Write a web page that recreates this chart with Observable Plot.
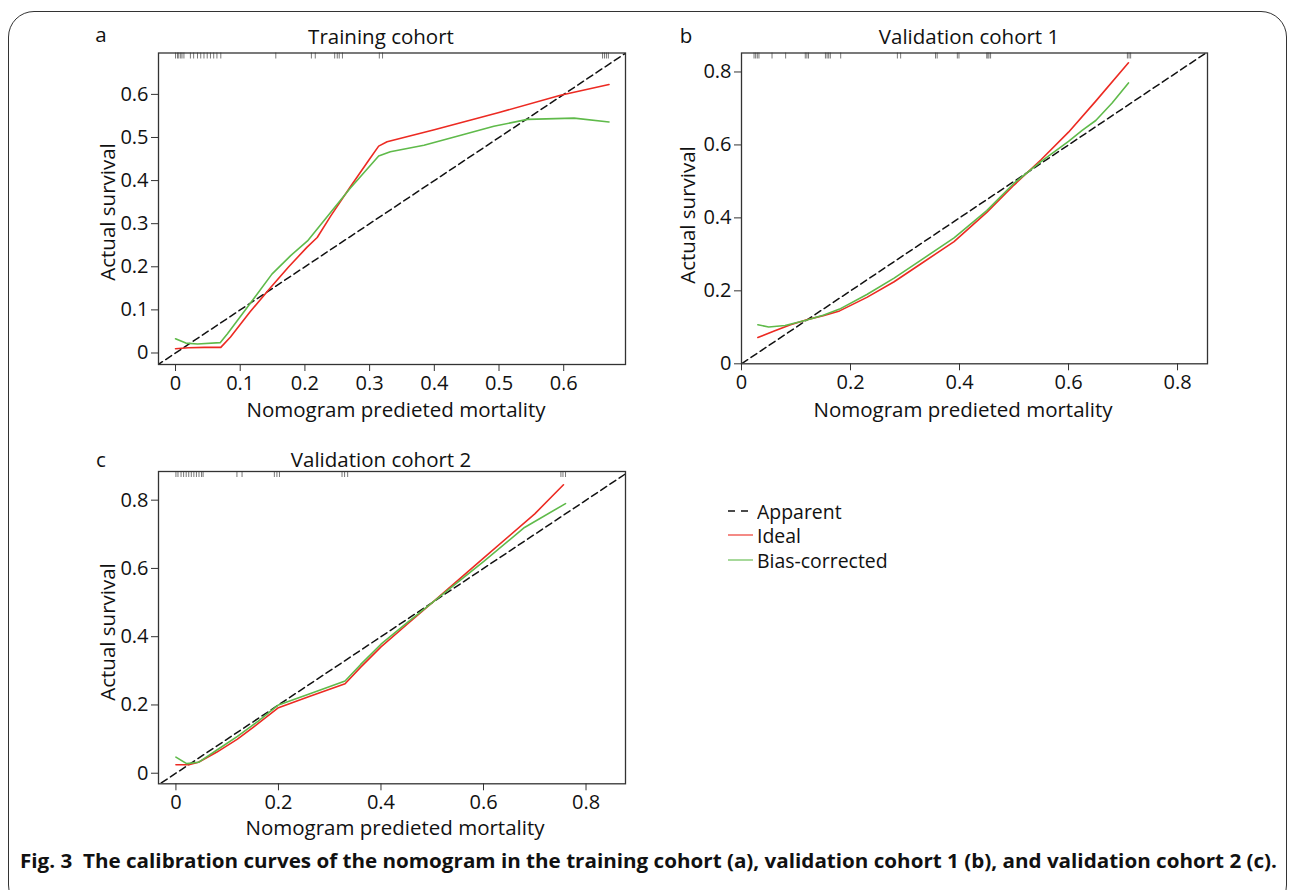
<!DOCTYPE html>
<html>
<head>
<meta charset="utf-8">
<script src="https://cdn.jsdelivr.net/npm/d3@7"></script>
<script src="https://cdn.jsdelivr.net/npm/@observablehq/plot@0.6"></script>
<style>
  html, body { margin: 0; padding: 0; background: #fff; }
  body { width: 1292px; height: 890px; position: relative; overflow: hidden; font-family: "Open Sans", "Noto Sans", sans-serif; color: #111; }
  .border { position: absolute; left: 8px; top: 11px; width: 1279px; height: 900px; border: 1.5px solid #333; border-radius: 26px; box-sizing: border-box; }
  .t { position: absolute; white-space: pre; font-size: 20.5px; line-height: 1; transform: translate(-50%, -50%); }
  .rot { transform: translate(-50%, -50%) rotate(-90deg); }
  .panel { position: absolute; }
  .leg { position: absolute; font-size: 18px; line-height: 1; white-space: pre; transform-origin: 0 50%; transform: scale(1.08, 1.08); }
  #caption { position: absolute; left: 20px; top: 851px; font-weight: 700; font-size: 19px; white-space: pre; transform-origin: 0 0; line-height: 1.1; }
</style>
</head>
<body>
<div class="border"></div>
<div id="root"></div>
<script>
// ---------- data ----------
// Panel a: Training cohort
const aIdealX = [0.000, 0.020, 0.045, 0.070, 0.085, 0.115, 0.147, 0.175, 0.203, 0.219, 0.240, 0.270, 0.300, 0.314, 0.327, 0.400, 0.500, 0.595, 0.670];
const aIdealY = [0.010, 0.012, 0.013, 0.013, 0.037, 0.095, 0.152, 0.200, 0.245, 0.268, 0.318, 0.385, 0.450, 0.480, 0.490, 0.518, 0.558, 0.598, 0.623];
const aBiasX = [0.000, 0.016, 0.034, 0.069, 0.080, 0.111, 0.149, 0.178, 0.204, 0.229, 0.270, 0.314, 0.332, 0.384, 0.441, 0.492, 0.544, 0.616, 0.670];
const aBiasY = [0.033, 0.023, 0.021, 0.024, 0.044, 0.106, 0.183, 0.226, 0.260, 0.306, 0.382, 0.457, 0.467, 0.482, 0.505, 0.526, 0.542, 0.545, 0.536];
const aRug = [0.000, 0.003, 0.005, 0.008, 0.010, 0.013, 0.023, 0.028, 0.034, 0.039, 0.044, 0.049, 0.054, 0.059, 0.064, 0.070, 0.155, 0.210, 0.216, 0.246, 0.250, 0.253, 0.258, 0.315, 0.320, 0.660, 0.663, 0.666, 0.669];

// Panel b: Validation cohort 1
const bIdealX = [0.030, 0.060, 0.090, 0.120, 0.150, 0.180, 0.230, 0.280, 0.330, 0.390, 0.450, 0.500, 0.550, 0.600, 0.650, 0.710];
const bIdealY = [0.072, 0.090, 0.107, 0.121, 0.132, 0.145, 0.182, 0.225, 0.275, 0.335, 0.415, 0.490, 0.560, 0.635, 0.720, 0.825];
const bBiasX = [0.030, 0.050, 0.080, 0.120, 0.150, 0.180, 0.230, 0.280, 0.330, 0.390, 0.450, 0.500, 0.550, 0.600, 0.625, 0.650, 0.680, 0.710];
const bBiasY = [0.107, 0.101, 0.105, 0.120, 0.133, 0.150, 0.190, 0.235, 0.285, 0.345, 0.420, 0.495, 0.555, 0.610, 0.640, 0.667, 0.715, 0.770];
const bRug = [0.023, 0.026, 0.029, 0.032, 0.056, 0.081, 0.117, 0.120, 0.123, 0.154, 0.157, 0.160, 0.163, 0.182, 0.286, 0.292, 0.356, 0.359, 0.396, 0.399, 0.450, 0.452, 0.454, 0.457, 0.708, 0.711, 0.714];

// Panel c: Validation cohort 2
const cIdealX = [0.000, 0.025, 0.044, 0.080, 0.120, 0.160, 0.200, 0.260, 0.330, 0.360, 0.400, 0.450, 0.500, 0.600, 0.700, 0.756];
const cIdealY = [0.025, 0.025, 0.032, 0.062, 0.100, 0.145, 0.192, 0.225, 0.262, 0.310, 0.370, 0.435, 0.500, 0.630, 0.760, 0.845];
const cBiasX = [0.000, 0.021, 0.044, 0.080, 0.120, 0.160, 0.200, 0.260, 0.330, 0.360, 0.400, 0.450, 0.500, 0.600, 0.680, 0.760];
const cBiasY = [0.047, 0.028, 0.032, 0.068, 0.108, 0.152, 0.200, 0.232, 0.270, 0.318, 0.378, 0.440, 0.500, 0.620, 0.720, 0.790];
const cRug = [0.000, 0.004, 0.010, 0.015, 0.020, 0.025, 0.030, 0.035, 0.040, 0.045, 0.050, 0.053, 0.119, 0.129, 0.192, 0.197, 0.202, 0.324, 0.329, 0.335, 0.751, 0.755, 0.760];

// Apparent (diagonal reference)
const apparentX = [-0.1, 1];
const apparentY = [-0.1, 1];

const ticksA = [0, 0.1, 0.2, 0.3, 0.4, 0.5, 0.6];
const ticksB = [0, 0.2, 0.4, 0.6, 0.8];

const panelLetters = ["a", "b", "c"];
const panelTitles = ["Training cohort", "Validation cohort 1", "Validation cohort 2"];
const xLabel = "Nomogram predieted mortality";
const yLabel = "Actual survival";
const legendLabels = ["Apparent", "Ideal", "Bias-corrected"];
const captionText = "Fig. 3  The calibration curves of the nomogram in the training cohort (a), validation cohort 1 (b), and validation cohort 2 (c).";

// ---------- styling ----------
const RED = "#ec2a22";
const GREEN = "#5fba4a";

const zip = (xs, ys) => xs.map((x, i) => ({x, y: ys[i]}));

function panel(o) {
  const yTop = o.yDomain[1];
  const rugLen = (o.yDomain[1] - o.yDomain[0]) * 6 / (o.height - o.mt - o.mb);
  return Plot.plot({
    width: o.width, height: o.height,
    marginLeft: o.ml, marginRight: o.mr, marginTop: o.mt, marginBottom: o.mb,
    style: {fontFamily: "'Open Sans', 'Noto Sans', sans-serif", fontSize: "20px", color: "#111", background: "transparent", overflow: "visible"},
    x: {domain: o.xDomain},
    y: {domain: o.yDomain},
    marks: [
      Plot.ruleX(o.rug, {x: d => d, y1: yTop, y2: yTop - rugLen, stroke: "#777", strokeWidth: 1}),
      Plot.line(zip(apparentX, apparentY), {x: "x", y: "y", stroke: "#111", strokeWidth: 1.5, strokeDasharray: "7,4", clip: true}),
      Plot.line(zip(o.idealX, o.idealY), {x: "x", y: "y", stroke: RED, strokeWidth: 1.6}),
      Plot.line(zip(o.biasX, o.biasY), {x: "x", y: "y", stroke: GREEN, strokeWidth: 1.6}),
      Plot.frame({stroke: "#333", strokeWidth: 1.3}),
      Plot.axisX({ticks: o.xTicks, tickFormat: d => String(d), tickSize: 7, tickPadding: 4, label: null, stroke: "#333"}),
      Plot.axisY({ticks: o.yTicks, tickFormat: d => String(d), tickSize: 7, tickPadding: 3, label: null, stroke: "#333"})
    ]
  });
}

const root = document.getElementById("root");
function place(el, left, top) {
  const wrap = document.createElement("div");
  wrap.className = "panel";
  wrap.style.left = left + "px";
  wrap.style.top = top + "px";
  wrap.appendChild(el);
  root.appendChild(wrap);
}

place(panel({width: 600, height: 380, ml: 98, mr: 35, mt: 22.5, mb: 46,
  xDomain: [-0.0263, 0.6955], yDomain: [-0.0267, 0.696],
  idealX: aIdealX, idealY: aIdealY, biasX: aBiasX, biasY: aBiasY, rug: aRug,
  xTicks: ticksA, yTicks: ticksA}), 60, 30);

place(panel({width: 620, height: 380, ml: 101, mr: 53, mt: 22.5, mb: 46.7,
  xDomain: [0, 0.855], yDomain: [0, 0.852],
  idealX: bIdealX, idealY: bIdealY, biasX: bBiasX, biasY: bBiasY, rug: bRug,
  xTicks: ticksB, yTicks: ticksB}), 640, 30);

place(panel({width: 600, height: 380, ml: 98, mr: 35, mt: 23, mb: 44.7,
  xDomain: [-0.034, 0.877], yDomain: [-0.031, 0.884],
  idealX: cIdealX, idealY: cIdealY, biasX: cBiasX, biasY: cBiasY, rug: cRug,
  xTicks: ticksB, yTicks: ticksB}), 60, 448);

// ---------- texts ----------
function text(str, cx, cy, cls) {
  const d = document.createElement("div");
  d.className = "t" + (cls ? " " + cls : "");
  d.textContent = str;
  d.style.left = cx + "px";
  d.style.top = cy + "px";
  root.appendChild(d);
  return d;
}
text(panelLetters[0], 101, 34);
text(panelTitles[0], 381, 36);
text(panelLetters[1], 686, 35);
text(panelTitles[1], 969, 36);
text(panelLetters[2], 101, 459);
text(panelTitles[2], 381, 459);

text(xLabel, 396, 409);
text(xLabel, 963, 409);
text(xLabel, 395, 827);
text(yLabel, 107, 212, "rot");
text(yLabel, 687, 215, "rot");
text(yLabel, 107, 632, "rot");

// ---------- legend ----------
const legendStyles = [
  {stroke: "#111", dash: "7,6"},
  {stroke: RED, dash: null},
  {stroke: GREEN, dash: null}
];
const legY = [510.5, 535, 559.5];
legendLabels.forEach((lab, i) => {
  const svg = d3.create("svg").attr("width", 30).attr("height", 10)
    .style("position", "absolute").style("left", "726px").style("top", (legY[i] - 5) + "px");
  svg.append("line").attr("x1", 2).attr("x2", legendStyles[i].dash ? 22 : 27).attr("y1", 5).attr("y2", 5)
    .attr("stroke", legendStyles[i].stroke).attr("stroke-width", legendStyles[i].dash ? 1.6 : 1.1)
    .attr("stroke-dasharray", legendStyles[i].dash);
  root.appendChild(svg.node());
  const t = document.createElement("div");
  t.className = "leg";
  t.textContent = lab;
  t.style.left = "757px";
  t.style.top = (legY[i] - 9) + "px";
  root.appendChild(t);
});

// ---------- caption ----------
const cap = document.createElement("div");
cap.id = "caption";
cap.textContent = captionText;
root.appendChild(cap);
const w = cap.getBoundingClientRect().width;
cap.style.transform = `scaleX(${1257 / w})`;
</script>
</body>
</html>
